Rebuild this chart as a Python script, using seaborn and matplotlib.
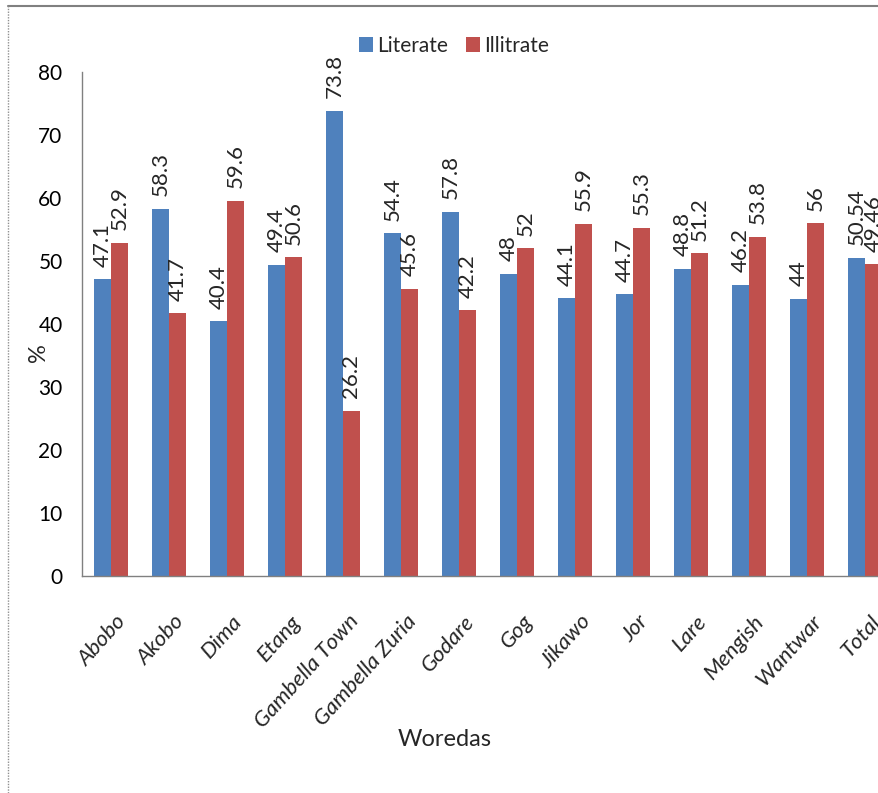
import matplotlib
matplotlib.use("Agg")
import matplotlib.pyplot as plt
from matplotlib.lines import Line2D
from matplotlib.patches import Patch
import seaborn as sns
import pandas as pd

woredas = ["Abobo", "Akobo", "Dima", "Etang", "Gambella Town", "Gambella Zuria",
           "Godare", "Gog", "Jikawo", "Jor", "Lare", "Mengish", "Wantwar", "Total"]
literate = [47.1, 58.3, 40.4, 49.4, 73.8, 54.4, 57.8, 48, 44.1, 44.7, 48.8, 46.2, 44, 50.54]
illiterate = [52.9, 41.7, 59.6, 50.6, 26.2, 45.6, 42.2, 52, 55.9, 55.3, 51.2, 53.8, 56, 49.46]
series = ["Literate", "Illitrate"]
colors = ["#4F81BD", "#C0504D"]

df = pd.DataFrame({
    "Woreda": woredas * 2,
    "Group": [series[0]] * len(woredas) + [series[1]] * len(woredas),
    "Value": literate + illiterate,
})

sns.set_style("white")
plt.rcParams["font.family"] = ["Lato", "DejaVu Sans"]

W, H = 879, 793
fig = plt.figure(figsize=(W / 100, H / 100), dpi=100)
ax = fig.add_axes([82 / W, (H - 576) / H, 812 / W, (576 - 72) / H])

sns.barplot(data=df, x="Woreda", y="Value", hue="Group", order=woredas,
            hue_order=series, palette=colors, width=0.575, saturation=1,
            edgecolor="none", linewidth=0, legend=False, ax=ax)

ax.set_xlim(-0.5, len(woredas) - 0.5)
ax.set_ylim(0, 80)
ax.set_yticks(range(0, 81, 10))
ax.tick_params(axis="y", labelsize=15, colors="#808080", labelcolor="black",
               direction="out", length=4, width=1, pad=10)

# category ticks sit between groups; labels go under the group centres
ax.set_xticks([i - 0.5 for i in range(len(woredas) + 1)])
ax.set_xticklabels([])
ax.tick_params(axis="x", colors="#808080", direction="out", length=4, width=1)
for i, name in enumerate(woredas):
    ax.text(i + 0.08, -5.6, name, rotation=48, ha="right", va="top",
            rotation_mode="anchor", fontsize=16, style="italic")

for side in ["top", "right"]:
    ax.spines[side].set_visible(False)
for side in ["left", "bottom"]:
    ax.spines[side].set_color("#808080")
    ax.spines[side].set_linewidth(1)

# value labels above each bar
for cont in ax.containers:
    for bar in cont:
        v = bar.get_height()
        ax.text(bar.get_x() + bar.get_width() / 2, v + 2.0, f"{v:g}",
                rotation=90, ha="center", va="bottom", fontsize=16)

ax.set_xlabel("")
ax.set_ylabel("")
fig.text(38 / W, 1 - 353 / H, "%", rotation=90, ha="center", va="center", fontsize=17)
fig.text(445 / W, 1 - 740 / H, "Woredas", ha="center", va="center", fontsize=17)

handles = [Patch(facecolor=c, edgecolor="none") for c in colors]
fig.legend(handles, series, loc="center", bbox_to_anchor=(454 / W, 1 - 46 / H),
           ncol=2, frameon=False, fontsize=15, handlelength=0.65, handleheight=0.75,
           handletextpad=0.2, columnspacing=0.9, borderpad=0)

# outer chart frame
fig.add_artist(Line2D([8 / W, 1], [1 - 6 / H, 1 - 6 / H], transform=fig.transFigure,
                      color="#808080", linewidth=1.5))
fig.add_artist(Line2D([8 / W, 8 / W], [0, 1 - 6 / H], transform=fig.transFigure,
                      color="#909090", linewidth=1, linestyle=(0, (1, 1))))

fig.savefig("out.png", dpi=100)
